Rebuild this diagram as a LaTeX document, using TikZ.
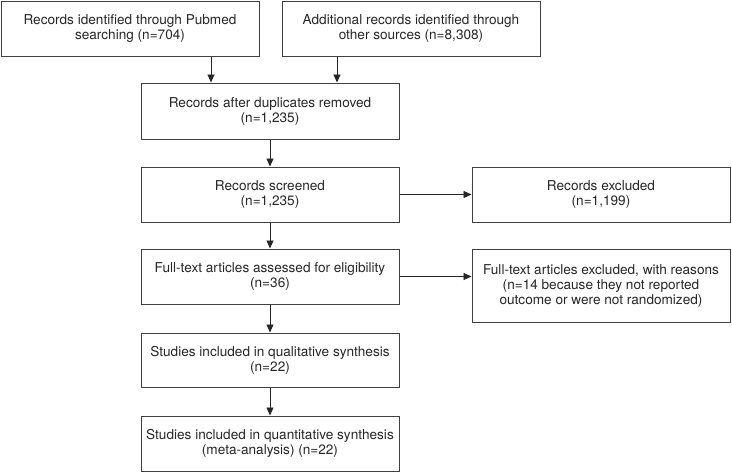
\documentclass[tikz,border=0pt]{standalone}
\usepackage{fontspec}
\setmainfont{TeX Gyre Heros}
\usepackage{tikz}
\usetikzlibrary{arrows.meta}

\tikzset{
	flowbox/.style={draw=black!75, line width=1pt, minimum width=258pt, minimum height=55pt, align=center, inner sep=2pt, text=black!85, font=\fontsize{13.6}{15}\selectfont},
	flowarr/.style={-{Triangle[length=8pt, width=7pt]}, draw=black!85, line width=0.9pt}
}

\begin{document}
\begin{tikzpicture}[x=1pt, y=-1pt]
	\useasboundingbox (0,0) rectangle (732,472);
	\node[flowbox] (pubmed) at (130,28.5) {Records identified through Pubmed\\searching (n=704)};
	\node[flowbox] (other) at (411,28.5) {Additional records identified through\\other sources (n=8,308)};
	\node[flowbox, minimum height=56pt] (dup) at (270,111) {Records after duplicates removed\\(n=1,235)};
	\node[flowbox] (screen) at (270,194.5) {Records screened\\(n=1,235)};
	\node[flowbox] (excl) at (601,194.5) {Records excluded\\(n=1,199)};
	\node[flowbox] (full) at (270,276.5) {Full-text articles assessed for eligibility\\(n=36)};
	\node[flowbox, minimum height=73pt] (fullex) at (601,285.5) {Full-text articles excluded, with reasons\\(n=14 because they not reported\\outcome or were not randomized)};
	\node[flowbox, minimum height=54pt] (qual) at (270,360) {Studies included in qualitative synthesis\\(n=22)};
	\node[flowbox] (quant) at (270,443.5) {Studies included in quantitative synthesis\\(meta-analysis) (n=22)};
	\draw[flowarr] ([xshift=81pt]pubmed.south) -- ([xshift=81pt]pubmed.south |- dup.north);
	\draw[flowarr] ([xshift=-74pt]other.south) -- ([xshift=-74pt]other.south |- dup.north);
	\draw[flowarr] (dup) -- (screen);
	\draw[flowarr] (screen) -- (full);
	\draw[flowarr] (full) -- (qual);
	\draw[flowarr] (qual) -- (quant);
	\draw[flowarr] (screen) -- (excl);
	\draw[flowarr] (full.east) -- (full.east -| fullex.west);
\end{tikzpicture}
\end{document}
